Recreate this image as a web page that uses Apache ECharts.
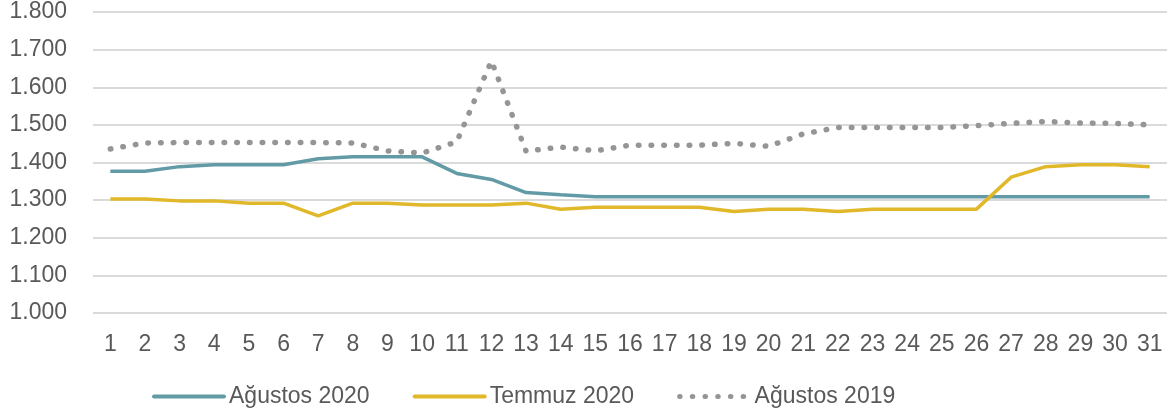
<!DOCTYPE html>
<html>
<head>
<meta charset="utf-8">
<script src="https://cdn.jsdelivr.net/npm/echarts@6/dist/echarts.min.js"></script>
<style>
  html, body { margin: 0; padding: 0; background: #fff; }
  #chart { width: 1175px; height: 416px; }
</style>
</head>
<body>
<div id="chart"></div>
<script>
// gün (1-31)
const days = ['1','2','3','4','5','6','7','8','9','10','11','12','13','14','15','16','17','18','19','20','21','22','23','24','25','26','27','28','29','30','31'];

const agustos2020 = [1377,1377,1389,1394,1394,1394,1410,1415,1415,1415,1371,1355,1320,1314,1309,1309,1309,1309,1309,1309,1309,1309,1309,1309,1309,1309,1309,1309,1309,1309,1309];
const temmuz2020  = [1303,1303,1298,1298,1292,1292,1258,1292,1292,1287,1287,1287,1292,1276,1281,1281,1281,1281,1270,1276,1276,1270,1276,1276,1276,1276,1361,1389,1394,1394,1389];
const agustos2019 = [1436,1452,1453,1453,1453,1453,1453,1452,1431,1425,1455,1670,1430,1441,1431,1446,1446,1446,1451,1443,1476,1493,1493,1493,1493,1498,1504,1509,1505,1504,1500];

const yMin = 1000, yMax = 1800, yStep = 100;

const teal = '#629ba6', yellow = '#e0b82a', grey = '#959595';
const dots = [0.5, 12.2];

const chart = echarts.init(document.getElementById('chart'));

// 1800 -> "1.800"
const fmt = v => String(v).replace(/\B(?=(\d{3})+(?!\d))/g, '.');

const option = {
  animation: false,
  textStyle: { fontFamily: 'Liberation Sans' },
  grid: { left: 93, right: 8, top: 12, bottom: 103 },
  legend: {
    left: 147,
    top: 380,
    itemWidth: 70,
    itemHeight: 14,
    itemGap: 43,
    itemStyle: { opacity: 0 },
    textStyle: { fontSize: 23, color: '#595959', fontFamily: 'Liberation Sans' },
    data: [
      { name: 'Ağustos 2020', lineStyle: { color: teal, width: 4, cap: 'round' } },
      { name: 'Temmuz 2020', lineStyle: { color: yellow, width: 4, cap: 'round' } },
      { name: 'Ağustos 2019', lineStyle: { color: grey, width: 5, type: dots, cap: 'round' } }
    ]
  },
  xAxis: {
    type: 'category',
    data: days,
    boundaryGap: true,
    axisLine: { show: false },
    axisTick: { show: false },
    axisLabel: { color: '#595959', fontSize: 23, margin: 20, interval: 0 }
  },
  yAxis: {
    type: 'value',
    min: yMin,
    max: yMax,
    interval: yStep,
    axisLine: { show: false },
    axisTick: { show: false },
    axisLabel: { color: '#595959', fontSize: 23, margin: 26, formatter: fmt },
    splitLine: { lineStyle: { color: '#dadada', width: 2 } }
  },
  series: [
    {
      name: 'Ağustos 2020',
      type: 'line',
      data: agustos2020,
      symbol: 'none',
      lineStyle: { color: teal, width: 3.5 },
      itemStyle: { color: teal }
    },
    {
      name: 'Temmuz 2020',
      type: 'line',
      data: temmuz2020,
      symbol: 'none',
      lineStyle: { color: yellow, width: 3.5 },
      itemStyle: { color: yellow }
    },
    {
      name: 'Ağustos 2019',
      type: 'line',
      data: agustos2019,
      symbol: 'none',
      lineStyle: { color: grey, width: 5.5, type: dots, cap: 'round' },
      itemStyle: { color: grey }
    }
  ]
};

chart.setOption(option);
</script>
</body>
</html>
